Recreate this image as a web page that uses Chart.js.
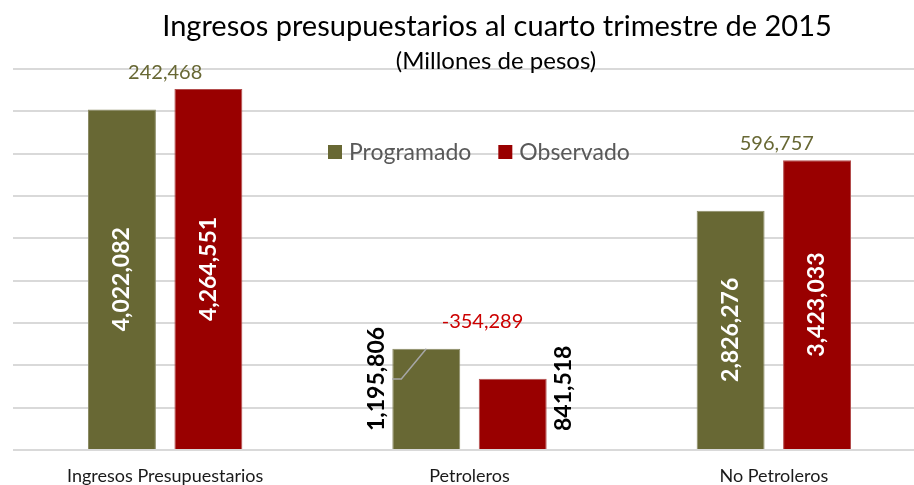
<!DOCTYPE html>
<html>
<head>
<meta charset="utf-8">
<script src="https://cdn.jsdelivr.net/npm/chart.js@4.4.0/dist/chart.umd.min.js"></script>
<style>
  html, body { margin: 0; padding: 0; background: #fff; overflow: hidden; }
  #wrap { width: 930px; height: 485px; }
</style>
</head>
<body>
<div id="wrap"><canvas id="chart"></canvas></div>
<script>
// datos (millones de pesos)
var categorias = ['Ingresos Presupuestarios', 'Petroleros', 'No Petroleros'];
var programado = [4022082, 1195806, 2826276];
var observado = [4264551, 841518, 3423033];
var diferencias = ['242,468', '-354,289', '596,757'];
var series = ['Programado', 'Observado'];
var titulo = 'Ingresos presupuestarios al cuarto trimestre de 2015';
var subtitulo = '(Millones de pesos)';

var verde = '#686834';
var rojo = '#990000';
var fuente = 'Lato, "Open Sans", sans-serif';

function fmt(v) {
    return v.toLocaleString('en-US');
}

// títulos, etiquetas de datos, diferencias, línea guía y leyenda
var etiquetas = {
    id: 'etiquetas',
    afterDraw: function (chart, args, opts) {
        var ctx = chart.ctx;
        ctx.save();

        // título y subtítulo
        ctx.fillStyle = '#000000';
        ctx.textAlign = 'center';
        ctx.textBaseline = 'middle';
        ctx.font = '29px ' + fuente;
        ctx.fillText(titulo, 497, 27);
        ctx.font = '24px ' + fuente;
        ctx.fillText(subtitulo, 496, 61);

        // valores de cada barra
        chart.data.datasets.forEach(function (ds, i) {
            var meta = chart.getDatasetMeta(i);
            meta.data.forEach(function (bar, j) {
                var txt = fmt(ds.data[j]);
                ctx.save();
                ctx.font = 'bold 23px ' + fuente;
                var w = ctx.measureText(txt).width;
                if (!opts.fuera[j]) {
                    ctx.fillStyle = '#ffffff';
                    ctx.translate(bar.x, (bar.y + bar.base) / 2);
                    ctx.rotate(-Math.PI / 2);
                    ctx.textAlign = 'center';
                    ctx.textBaseline = 'middle';
                    ctx.fillText(txt, 0, 0);
                } else {
                    var lx = i === 0 ? bar.x - bar.width / 2 - 16 : bar.x + bar.width / 2 + 17;
                    var ly = bar.base - 18;
                    ctx.fillStyle = '#000000';
                    ctx.translate(lx, ly);
                    ctx.rotate(-Math.PI / 2);
                    ctx.textAlign = 'left';
                    ctx.textBaseline = 'middle';
                    ctx.fillText(txt, 0, 0);
                    ctx.restore();
                    ctx.save();
                    if (i === 0) {
                        // línea guía
                        var cy = ly - w / 2;
                        var x0 = bar.x - bar.width / 2;
                        ctx.strokeStyle = '#a6a6a6';
                        ctx.lineWidth = 1.5;
                        ctx.beginPath();
                        ctx.moveTo(x0, cy);
                        ctx.lineTo(x0 + 9, cy);
                        ctx.lineTo(x0 + 34, bar.y);
                        ctx.stroke();
                    }
                }
                ctx.restore();
            });
        });

        // diferencias sobre cada grupo
        var m0 = chart.getDatasetMeta(0), m1 = chart.getDatasetMeta(1);
        ctx.font = '20px ' + fuente;
        ctx.textAlign = 'center';
        ctx.textBaseline = 'middle';
        diferencias.forEach(function (d, j) {
            var a = m0.data[j], b = m1.data[j];
            var cx = (a.x + b.x) / 2 + opts.dx[j];
            var top = Math.min(a.y, b.y) - opts.dy[j];
            ctx.fillStyle = d.charAt(0) === '-' ? '#cc0000' : verde;
            ctx.fillText(d, cx, top);
        });

        // leyenda
        ctx.font = '23px ' + fuente;
        ctx.textAlign = 'left';
        var lx = 328, ly = 152;
        series.forEach(function (s, i) {
            ctx.fillStyle = chart.data.datasets[i].backgroundColor;
            ctx.fillRect(lx, ly - 7, 14, 14);
            ctx.fillStyle = '#595959';
            ctx.fillText(s, lx + 21, ly + 1);
            lx += 21 + ctx.measureText(s).width + 27;
        });
        ctx.restore();
    }
};

var ctx = document.getElementById('chart').getContext('2d');
var chart = new Chart(ctx, {
    type: 'bar',
    data: {
        labels: categorias,
        datasets: [{
            label: series[0],
            data: programado,
            backgroundColor: verde,
            borderColor: '#8c8c66',
            borderWidth: 1
        }, {
            label: series[1],
            data: observado,
            backgroundColor: rojo,
            borderColor: '#b34d4d',
            borderWidth: 1
        }]
    },
    options: {
        responsive: true,
        maintainAspectRatio: false,
        animation: false,
        categoryPercentage: 0.568,
        barPercentage: 0.786,
        layout: { padding: { left: 13, right: 4, top: 69, bottom: 0 } },
        plugins: {
            legend: { display: false },
            tooltip: { enabled: false },
            etiquetas: {
                fuera: [false, true, false],
                dx: [0, 13, 3],
                dy: [16, 27, 17]
            }
        },
        scales: {
            x: {
                grid: { display: false, drawTicks: false },
                border: { display: false },
                ticks: {
                    color: '#1a1a1a',
                    font: { family: fuente, size: 18 },
                    padding: 15,
                    maxRotation: 0
                },
                afterFit: function (scale) {
                    scale.height = 35;
                }
            },
            y: {
                min: 0,
                max: 4500000,
                ticks: { display: false, stepSize: 500000 },
                border: { display: false },
                grid: { color: '#d9d9d9', lineWidth: 2, drawTicks: false }
            }
        }
    },
    plugins: [etiquetas]
});
</script>
</body>
</html>
